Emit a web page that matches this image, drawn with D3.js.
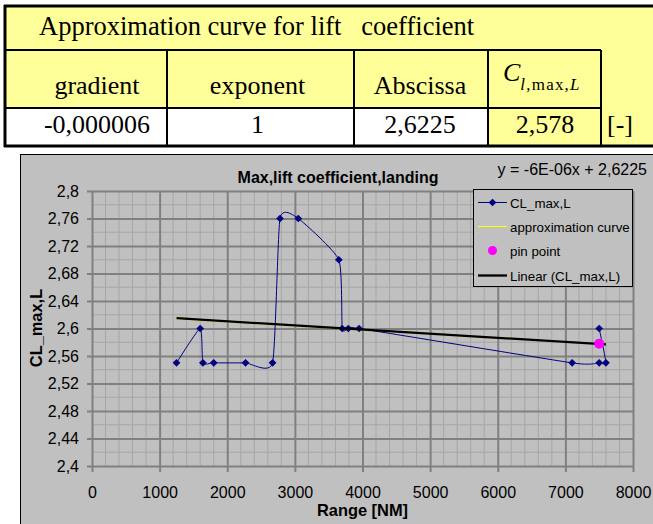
<!DOCTYPE html>
<html>
<head>
<meta charset="utf-8">
<script src="https://cdn.jsdelivr.net/npm/d3@7/dist/d3.min.js"></script>
<style>
  html, body { margin: 0; padding: 0; background: #ffffff; }
  svg { display: block; }
  text { white-space: pre; }
</style>
</head>
<body>
<script>
// ---- Chart data ----
const rangeNM = [1250, 1600, 1640, 1800, 2270, 2670, 2780, 3050, 3650, 3700, 3790, 3950, 7100, 7500, 7600, 7500];
const clMaxL  = [2.55, 2.60, 2.55, 2.55, 2.55, 2.55, 2.76, 2.76, 2.70, 2.60, 2.60, 2.60, 2.55, 2.55, 2.55, 2.60];

const approxX = [1250, 7600];
const approxY = [2.614, 2.5765];

const pinX = [7500];
const pinY = [2.578];

const trendX = [1250, 7600];
const trendY = [2.615, 2.5769];

const xTicks = [0, 1000, 2000, 3000, 4000, 5000, 6000, 7000, 8000];
const xTickLabels = ["0", "1000", "2000", "3000", "4000", "5000", "6000", "7000", "8000"];
const yTicks = [2.4, 2.44, 2.48, 2.52, 2.56, 2.6, 2.64, 2.68, 2.72, 2.76, 2.8];
const yTickLabels = ["2,4", "2,44", "2,48", "2,52", "2,56", "2,6", "2,64", "2,68", "2,72", "2,76", "2,8"];

const legendLabels = ["CL_max,L", "approximation curve", "pin point", "Linear (CL_max,L)"];
const trendEquation = "y = -6E-06x + 2,6225";

// ---- Table data ----
const tableTitle = "Approximation curve for lift   coefficient";
const tableHeaders = ["gradient", "exponent", "Abscissa"];
const tableValues = ["-0,000006", "1", "2,6225"];
const clValue = "2,578";
const unitLabel = "[-]";

const W = 653, H = 524;
const svg = d3.select("body").append("svg").attr("width", W).attr("height", H);

const SERIF = "'Liberation Serif', 'Times New Roman', serif";
const SANS = "'Liberation Sans', Arial, sans-serif";

// ================= Table =================
const tbl = svg.append("g");
const colEdges = [5, 167, 354, 488, 601];
const colCenters = [97, 257.5, 420, 545];
tbl.append("rect").attr("x", 5).attr("y", 6).attr("width", W - 5).attr("height", 140).attr("fill", "#ffff99");
tbl.append("rect").attr("x", 5).attr("y", 108).attr("width", 488 - 5).attr("height", 38).attr("fill", "#ffffff");

const line = (x1, y1, x2, y2, w) => tbl.append("line")
  .attr("x1", x1).attr("y1", y1).attr("x2", x2).attr("y2", y2)
  .attr("stroke", "#000").attr("stroke-width", w);
line(4, 6, W, 6, 3);
line(5, 5, 5, 147, 3);
line(4, 50, 601, 50, 2);
line(4, 108, 601, 108, 2);
line(4, 146, W, 146, 3);
colEdges.slice(1).forEach(x => line(x, 50, x, 146, 2));

tbl.append("text").attr("x", 39).attr("y", 35)
  .attr("font-family", SERIF).attr("font-size", 26.5).text(tableTitle);

tableHeaders.forEach((h, i) => {
  tbl.append("text").attr("x", colCenters[i]).attr("y", 94).attr("text-anchor", "middle")
    .attr("font-family", SERIF).attr("font-size", 26).text(h);
  tbl.append("text").attr("x", colCenters[i]).attr("y", 133).attr("text-anchor", "middle")
    .attr("font-family", SERIF).attr("font-size", 26).text(tableValues[i]);
});

// C_{l,max,L} header
const cl = tbl.append("text").attr("x", 503).attr("y", 80.5)
  .attr("font-family", SERIF).attr("font-size", 26);
cl.append("tspan").attr("font-style", "italic").text("C");
const sub = cl.append("tspan").attr("dy", 9.5).attr("font-size", 17).attr("letter-spacing", 1.2);
sub.append("tspan").attr("font-style", "italic").text("l");
sub.append("tspan").text(",max,");
sub.append("tspan").attr("font-style", "italic").text("L");

tbl.append("text").attr("x", colCenters[3]).attr("y", 133).attr("text-anchor", "middle")
  .attr("font-family", SERIF).attr("font-size", 26).text(clValue);
tbl.append("text").attr("x", 607).attr("y", 133)
  .attr("font-family", SERIF).attr("font-size", 26).text(unitLabel);

// ================= Chart =================
const chart = svg.append("g");
chart.append("rect").attr("x", 20.5).attr("y", 154.5).attr("width", W).attr("height", H)
  .attr("fill", "#c0c0c0").attr("stroke", "#000").attr("stroke-width", 1);

const x = d3.scaleLinear().domain([0, 8000]).range([92, 633]);
const y = d3.scaleLinear().domain([2.4, 2.8]).range([466, 191]);

// minor grid
const minorX = d3.range(0, 8001, 200).filter(v => v % 1000 !== 0);
const minorY = d3.range(2.4, 2.8001, 0.02).filter((v, i) => i % 2 === 1);
const grid = chart.append("g");
grid.selectAll(".mx").data(minorX).join("line")
  .attr("x1", d => x(d)).attr("x2", d => x(d)).attr("y1", y(2.8)).attr("y2", y(2.4))
  .attr("stroke", "#a6a6a6").attr("stroke-width", 1);
grid.selectAll(".my").data(minorY).join("line")
  .attr("y1", d => y(d)).attr("y2", d => y(d)).attr("x1", x(0)).attr("x2", x(8000))
  .attr("stroke", "#a6a6a6").attr("stroke-width", 1);

// axes with major gridlines
const yAxis = d3.axisLeft(y).tickValues(yTicks).tickSize(-(x(8000) - x(0)))
  .tickFormat((d, i) => yTickLabels[i]);
const xAxis = d3.axisBottom(x).tickValues(xTicks).tickSize(-(y(2.4) - y(2.8)))
  .tickFormat((d, i) => xTickLabels[i]);

const gy = chart.append("g").attr("transform", `translate(${x(0)},0)`).call(yAxis);
const gx = chart.append("g").attr("transform", `translate(0,${y(2.4)})`).call(xAxis);
[gx, gy].forEach(g => {
  g.select(".domain").remove();
  g.selectAll(".tick line").attr("stroke", "#808080").attr("stroke-width", 2);
  g.selectAll(".tick text").attr("font-family", SANS).attr("font-size", 16).attr("fill", "#000");
});
// outward tick stubs
gy.selectAll(".tick").append("line").attr("x1", -5).attr("x2", 0)
  .attr("stroke", "#808080").attr("stroke-width", 2);
gx.selectAll(".tick").append("line").attr("y1", 0).attr("y2", 6)
  .attr("stroke", "#808080").attr("stroke-width", 2);
gx.selectAll(".tick text").attr("dy", null).attr("y", 31.5);
gy.selectAll(".tick text").attr("x", -13);

// approximation curve
const approxData = approxX.map((v, i) => [v, approxY[i]]);
chart.append("path").datum(approxData)
  .attr("d", d3.line().x(d => x(d[0])).y(d => y(d[1])))
  .attr("fill", "none").attr("stroke", "#ffff00").attr("stroke-width", 1);

// main series, smoothed
const series = rangeNM.map((v, i) => [v, clMaxL[i]]);
chart.append("path").datum(series)
  .attr("d", d3.line().x(d => x(d[0])).y(d => y(d[1])).curve(d3.curveCardinal.tension(0.5)))
  .attr("fill", "none").attr("stroke", "#000080").attr("stroke-width", 1);

const diamondPath = d3.symbol().type(d3.symbolSquare).size(30);
chart.selectAll(".pt").data(series).join("path")
  .attr("transform", d => `translate(${x(d[0])},${y(d[1])}) rotate(45)`)
  .attr("d", diamondPath)
  .attr("fill", "#000080");

// linear trendline
const trendData = trendX.map((v, i) => [v, trendY[i]]);
chart.append("path").datum(trendData)
  .attr("d", d3.line().x(d => x(d[0])).y(d => y(d[1])))
  .attr("fill", "none").attr("stroke", "#000").attr("stroke-width", 2.3);

// pin point
chart.selectAll(".pin").data(pinX.map((v, i) => [v, pinY[i]])).join("circle")
  .attr("cx", d => x(d[0])).attr("cy", d => y(d[1])).attr("r", 5)
  .attr("fill", "#ff00ff");

// titles
chart.append("text").attr("x", 338).attr("y", 183).attr("text-anchor", "middle")
  .attr("font-family", SANS).attr("font-size", 16).attr("font-weight", "bold")
  .text("Max,lift coefficient,landing");
chart.append("text").attr("x", 647).attr("y", 175).attr("text-anchor", "end")
  .attr("font-family", SANS).attr("font-size", 16).text(trendEquation);
chart.append("text").attr("x", 362.5).attr("y", 516).attr("text-anchor", "middle")
  .attr("font-family", SANS).attr("font-size", 16.4).attr("font-weight", "bold")
  .text("Range [NM]");
chart.append("text").attr("transform", "translate(42,328) rotate(-90)").attr("text-anchor", "middle")
  .attr("font-family", SANS).attr("font-size", 16.4).attr("font-weight", "bold")
  .text("CL_max,L");

// legend
const lg = chart.append("g");
lg.append("rect").attr("x", 473.5).attr("y", 189.5).attr("width", 159).attr("height", 97)
  .attr("fill", "#c0c0c0").attr("stroke", "#000").attr("stroke-width", 1);
const rowY = [202.5, 226.5, 250.5, 275.5];
legendLabels.forEach((t, i) => {
  lg.append("text").attr("x", 510).attr("y", rowY[i] + 5)
    .attr("font-family", SANS).attr("font-size", 13.3).text(t);
});
lg.append("line").attr("x1", 478).attr("x2", 507).attr("y1", rowY[0]).attr("y2", rowY[0])
  .attr("stroke", "#000080").attr("stroke-width", 1);
lg.append("path").attr("transform", `translate(492.5,${rowY[0]}) rotate(45)`)
  .attr("d", diamondPath).attr("fill", "#000080");
lg.append("line").attr("x1", 478).attr("x2", 507).attr("y1", rowY[1]).attr("y2", rowY[1])
  .attr("stroke", "#ffff00").attr("stroke-width", 1);
lg.append("circle").attr("cx", 492.5).attr("cy", rowY[2]).attr("r", 4.5).attr("fill", "#ff00ff");
lg.append("line").attr("x1", 478).attr("x2", 507).attr("y1", rowY[3]).attr("y2", rowY[3])
  .attr("stroke", "#000").attr("stroke-width", 2.3);
</script>
</body>
</html>
